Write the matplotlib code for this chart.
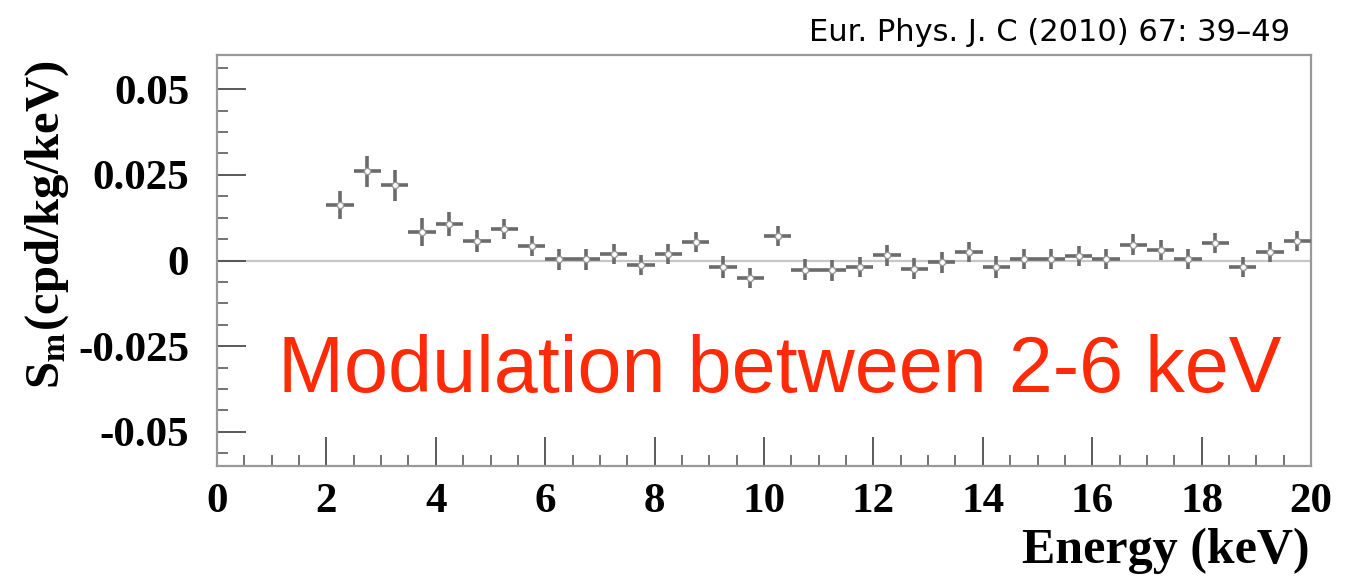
import numpy as np
import matplotlib.pyplot as plt
from matplotlib.ticker import MultipleLocator

plt.rcParams['mathtext.fontset'] = 'stix'

# Residual modulation amplitude, 0.5 keV bins from 2 to 20 keV
energy = np.arange(2.25, 20.0, 0.5)
sm = [0.0162, 0.0261, 0.0219, 0.0084, 0.0107, 0.0056, 0.0092, 0.0042,
      0.0003, 0.0003, 0.0019, -0.0012, 0.0019, 0.0054, -0.0019, -0.0051,
      0.0071, -0.0027, -0.0029, -0.0019, 0.0015, -0.0024, -0.0005, 0.0024,
      -0.0018, 0.0005, 0.0005, 0.0013, 0.0005, 0.0046, 0.0031, 0.0005,
      0.0051, -0.0019, 0.0024, 0.0058]
sm_err = [0.0040, 0.0045, 0.0045, 0.0041, 0.0036, 0.0032, 0.0030, 0.0030,
          0.0030, 0.0030, 0.0028, 0.0029, 0.0030, 0.0028, 0.0031, 0.0030,
          0.0030, 0.0030, 0.0030, 0.0030, 0.0030, 0.0030, 0.0031, 0.0029,
          0.0032, 0.0030, 0.0030, 0.0029, 0.0030, 0.0030, 0.0029, 0.0030,
          0.0029, 0.0029, 0.0029, 0.0029]
bin_half = 0.25

fig = plt.figure(figsize=(13.51, 5.76), dpi=100)
ax = fig.add_axes([217 / 1351, 1 - 466 / 576, (1311 - 217) / 1351, (466 - 55) / 576])

ax.axhline(0, color='0.78', lw=1.6, zorder=1)
ax.errorbar(energy, sm, yerr=sm_err, xerr=bin_half, fmt='o', ms=4.5,
            mfc='white', mec='0.6', mew=1.0, ecolor='0.42', elinewidth=2.6,
            capsize=0, zorder=3)

ax.set_xlim(0, 20)
ax.set_ylim(-0.06, 0.06)
ax.xaxis.set_minor_locator(MultipleLocator(0.5))
ax.yaxis.set_minor_locator(MultipleLocator(0.00625))
ax.set_yticks([0.05, 0.025, 0, -0.025, -0.05])
ax.set_yticklabels(['0.05', '0.025', '0', '-0.025', '-0.05'])
ax.set_xticks(range(0, 21, 2))
ax.set_xticklabels([str(v) for v in range(0, 21, 2)])

tfont = dict(family='Liberation Serif', weight='bold', size=31)
for lab in ax.get_xticklabels() + ax.get_yticklabels():
    lab.set(**tfont)
ax.tick_params(axis='both', which='major', direction='in', length=21,
               width=1.3, color='0.3', top=False, right=False)
ax.tick_params(axis='both', which='minor', direction='in', length=8,
               width=1.1, color='0.3', top=False, right=False)
ax.tick_params(axis='y', which='major', pad=20)
ax.tick_params(axis='x', which='major', pad=12)
for s in ax.spines.values():
    s.set_color('0.6')
    s.set_linewidth(1.6)

fig.text(47 / 1351, 1 - 225 / 576, r'S$_{\mathbf{m}}$(cpd/kg/keV)', rotation=90,
         ha='center', va='center', family='Liberation Serif', weight='bold', size=35)
fig.text(1310 / 1351, 1 - 563 / 576, 'Energy (keV)', ha='right', va='baseline',
         family='Liberation Serif', weight='bold', size=36)

fig.text(1290 / 1351, 1 - 41 / 576, 'Eur. Phys. J. C (2010) 67: 39\u201349',
         ha='right', va='baseline', family='DejaVu Sans', size=22, color='black')
fig.text(278 / 1351, 1 - 392 / 576, 'Modulation between 2-6 keV', ha='left',
         va='baseline', family='Liberation Sans', size=57, color='#ff2a08')

fig.savefig('out.png', dpi=100)
